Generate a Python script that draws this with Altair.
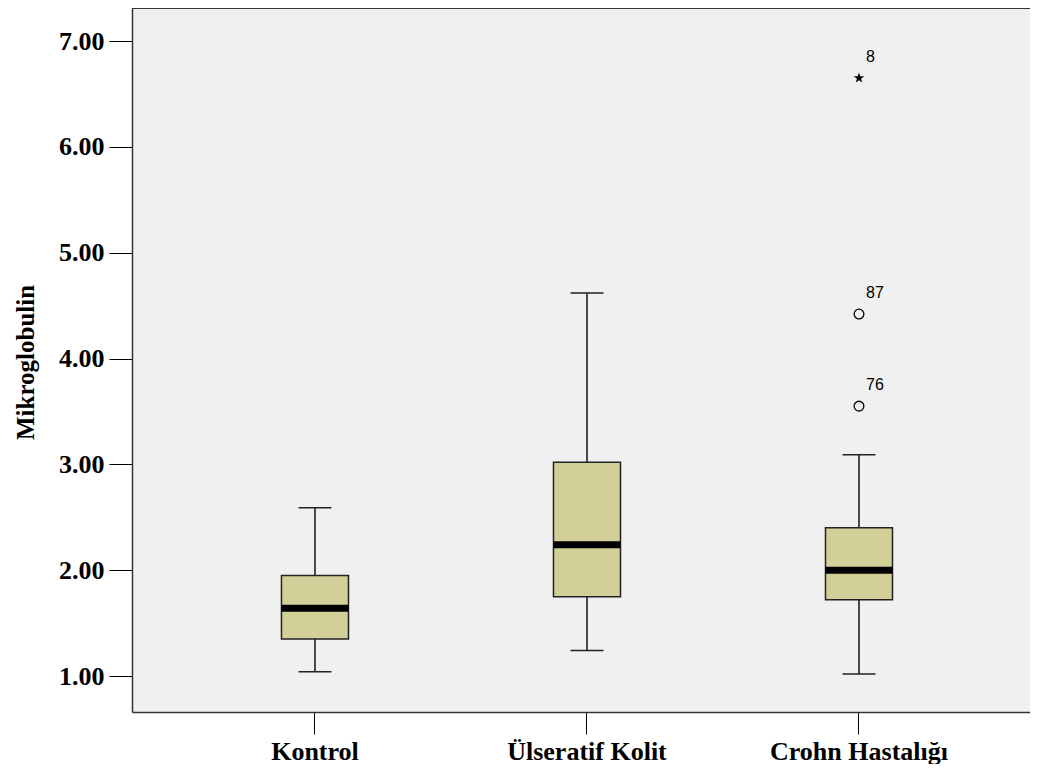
import altair as alt
import pandas as pd

groups = ["Kontrol", "Ülseratif Kolit", "Crohn Hastalığı"]
whisker_low = [1.04, 1.24, 1.02]
q1 = [1.35, 1.75, 1.72]
median = [1.64, 2.24, 2.00]
q3 = [1.95, 3.02, 2.40]
whisker_high = [2.59, 4.62, 3.09]

outlier_group = ["Crohn Hastalığı", "Crohn Hastalığı", "Crohn Hastalığı"]
outlier_value = [6.65, 4.42, 3.55]
outlier_case = ["8", "87", "76"]
outlier_kind = ["extreme", "outlier", "outlier"]

y_ticks = [1, 2, 3, 4, 5, 6, 7]

W, H = 898, 704

box = pd.DataFrame({"group": groups, "low": whisker_low, "q1": q1,
                    "median": median, "q3": q3, "high": whisker_high})
out = pd.DataFrame({"group": outlier_group, "value": outlier_value,
                    "case": outlier_case, "kind": outlier_kind})

xscale = alt.Scale(paddingInner=0, paddingOuter=0.1507, align=0.573)
yscale = alt.Scale(domain=[0.66, 7.312], nice=False, zero=False)

serif = "Liberation Serif"

xenc = alt.X("group:N", sort=groups, scale=xscale,
             axis=alt.Axis(title=None, labelAngle=0, tickSize=22, tickColor="black",
                           tickWidth=1, labelFont=serif, labelFontSize=26,
                           labelFontWeight="bold", labelColor="black", labelPadding=4,
                           domainColor="#333", domainWidth=1.5, grid=False))

yaxis = alt.Axis(values=y_ticks, format=".2f", tickSize=23, tickColor="black",
                 tickWidth=1, labelFont=serif, labelFontSize=26, labelFontWeight="bold",
                 labelColor="black", labelPadding=5, domainColor="#333", domainWidth=1.5,
                 grid=False, title="Mikroglobulin", titleFont=serif, titleFontSize=25,
                 titleFontWeight="bold", titleColor="black", titleX=-107, titleY=354,
                 titleBaseline="middle", titleAlign="center", titleAngle=-90)

STAR = ("M0,-1L0.235,-0.324L0.951,-0.309L0.38,0.124L0.588,0.809L0,0.4"
        "L-0.588,0.809L-0.38,0.124L-0.951,-0.309L-0.235,-0.324Z")

base = alt.Chart(box)
xg = alt.X("group:N", sort=groups)

whisk_lo = base.mark_rule(color="#111", strokeWidth=1.5).encode(
    x=xenc, y=alt.Y("low:Q", scale=yscale, axis=yaxis), y2="q1:Q")
whisk_hi = base.mark_rule(color="#111", strokeWidth=1.5).encode(
    x=xg, y=alt.Y("q3:Q"), y2="high:Q")
cap_lo = base.mark_tick(color="#222", size=33, thickness=1.5, opacity=1).encode(
    x=xg, y=alt.Y("low:Q"))
cap_hi = base.mark_tick(color="#222", size=33, thickness=1.5, opacity=1).encode(
    x=xg, y=alt.Y("high:Q"))
bars = base.mark_bar(size=67, fill="#D3CF98", stroke="#222", strokeWidth=1.5).encode(
    x=xg, y=alt.Y("q1:Q"), y2="q3:Q")
med = base.mark_tick(color="black", size=67, thickness=7, opacity=1).encode(
    x=xg, y=alt.Y("median:Q"))

ob = alt.Chart(out)
circles = ob.transform_filter(alt.datum.kind == "outlier").mark_point(
    shape="circle", size=95, filled=False, color="black", strokeWidth=1.3, opacity=1).encode(
    x=xg, y=alt.Y("value:Q"))
stars = ob.transform_filter(alt.datum.kind == "extreme").mark_point(
    shape=STAR, size=121, filled=True, color="black", opacity=1).encode(
    x=xg, y=alt.Y("value:Q"))
labels = ob.mark_text(align="left", baseline="middle", dx=7, dy=-21,
                      font="Liberation Sans", fontSize=16, color="black").encode(
    x=xg, y=alt.Y("value:Q"), text="case:N")

top = alt.Chart(box).mark_rule(color="#333", strokeWidth=1.5).encode(
    x=alt.value(0), x2=alt.value(W), y=alt.value(0))

chart = alt.layer(whisk_lo, whisk_hi, cap_lo, cap_hi, bars, med, circles, stars, labels, top).properties(
    width=W, height=H,
    padding={"left": 124, "top": 0, "right": 0, "bottom": 52},
    autosize=alt.AutoSizeParams(type="none"),
).configure_view(fill="#F0F0F0", stroke=None)

chart.save("out.html", embed_options={"renderer": "svg", "actions": False})
